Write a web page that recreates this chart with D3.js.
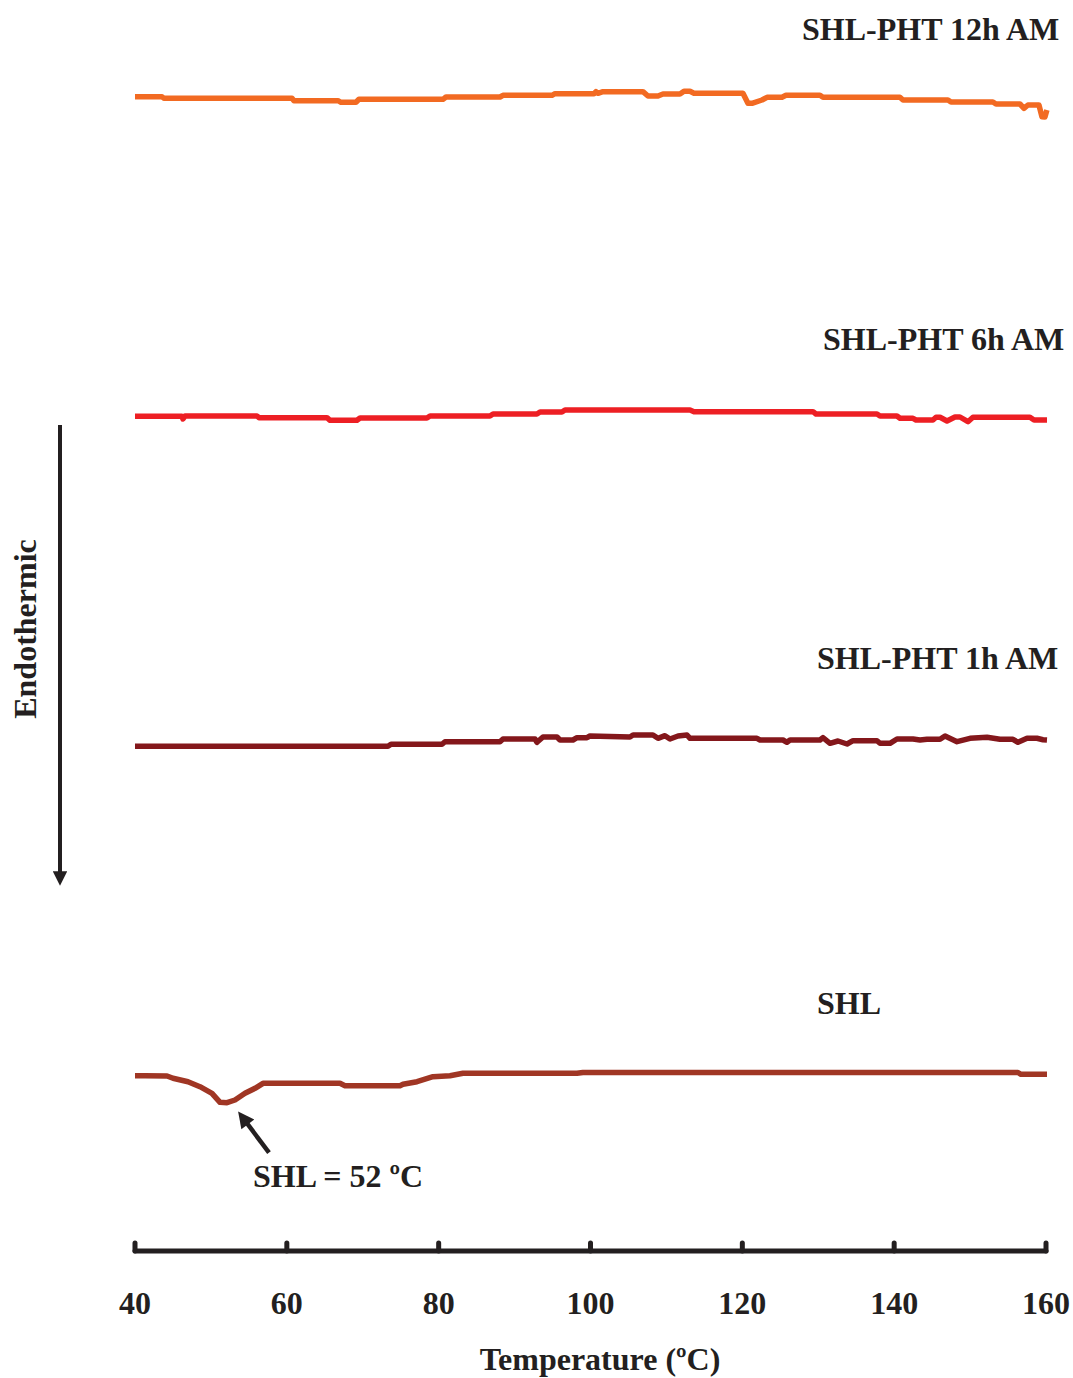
<!DOCTYPE html>
<html>
<head>
<meta charset="utf-8">
<script src="https://cdn.jsdelivr.net/npm/d3@7"></script>
<style>
  body { margin: 0; background: #fff; }
  svg text { font-family: "Liberation Serif", "Times New Roman", serif; font-weight: bold; fill: #231f20; }
</style>
</head>
<body>
<div id="graph"></div>
<script>
// temperature (ºC) and heat flow (a.u., endo down)
var shl12T = [40, 43.56, 43.8, 60.68, 60.94, 66.74, 67.13, 69.11, 69.5, 80.57, 80.96, 88.08, 88.47, 94.93, 95.32, 100.46, 100.72, 100.99, 101.64, 106.91, 107.57, 108.89, 109.55, 111.79, 112.31, 113.1, 113.63, 120.08, 120.74, 121.27, 122.59, 123.25, 125.22, 125.75, 130.23, 130.62, 140.76, 141.16, 147.09, 147.48, 153.01, 153.41, 156.57, 157.1, 157.62, 159.07, 159.47, 159.86, 160.12];
var shl12V = [115.33, 115.33, 115.17, 115.17, 114.93, 114.93, 114.77, 114.77, 115.07, 115.07, 115.3, 115.3, 115.47, 115.47, 115.63, 115.63, 115.83, 115.67, 115.83, 115.83, 115.4, 115.4, 115.6, 115.6, 115.87, 115.87, 115.67, 115.67, 114.67, 114.67, 115.0, 115.27, 115.27, 115.47, 115.47, 115.27, 115.27, 115.0, 115.0, 114.8, 114.8, 114.6, 114.6, 114.17, 114.5, 114.5, 113.33, 113.3, 114.0];

var shl6T = [40, 46.19, 46.32, 46.59, 56.07, 56.33, 65.29, 65.69, 69.24, 69.64, 78.46, 78.86, 86.76, 87.16, 92.95, 93.35, 96.24, 96.64, 113.11, 113.63, 129.31, 129.7, 137.74, 138.13, 140.37, 140.77, 142.48, 142.88, 145.11, 145.51, 146.04, 146.96, 148.01, 148.67, 149.72, 150.38, 157.89, 158.42, 160.13];
var shl6V = [83.37, 83.37, 83.1, 83.4, 83.4, 83.23, 83.23, 82.97, 82.97, 83.2, 83.2, 83.4, 83.4, 83.6, 83.6, 83.8, 83.8, 84.0, 84.0, 83.83, 83.83, 83.6, 83.6, 83.4, 83.4, 83.17, 83.17, 83.0, 83.0, 83.27, 83.27, 82.9, 83.3, 83.3, 82.83, 83.27, 83.27, 83.0, 83.0];

var shl1T = [40, 73.33, 73.72, 80.44, 80.83, 88.08, 88.47, 92.69, 92.95, 93.74, 95.59, 95.98, 97.69, 98.22, 99.54, 99.93, 105.2, 105.6, 108.23, 108.89, 109.81, 110.47, 111.53, 112.71, 113.11, 121.93, 122.33, 125.36, 125.88, 126.28, 130.23, 130.62, 131.55, 132.6, 133.79, 134.58, 137.74, 138.13, 139.45, 140.37, 142.48, 143.4, 144.32, 146.04, 146.7, 148.28, 149.99, 152.23, 153.94, 155.65, 156.31, 157.5, 158.81, 159.6, 160.13];
var shl1V = [50.37, 50.37, 50.57, 50.57, 50.83, 50.83, 51.1, 51.1, 50.77, 51.3, 51.3, 51.0, 51.0, 51.23, 51.23, 51.4, 51.3, 51.5, 51.5, 51.17, 51.43, 51.1, 51.4, 51.5, 51.17, 51.17, 51.0, 51.0, 50.77, 51.0, 51.0, 51.23, 50.67, 50.9, 50.6, 50.93, 50.93, 50.67, 50.67, 51.1, 51.1, 51.0, 51.07, 51.07, 51.4, 50.83, 51.17, 51.27, 51.07, 51.07, 50.77, 51.17, 51.17, 51.03, 51.0];

var shlT = [40, 41.32, 44.22, 45.01, 46.98, 48.56, 50.14, 51.2, 52.12, 53.17, 54.49, 55.81, 56.86, 67.0, 67.66, 74.91, 75.3, 77.15, 79.25, 81.49, 83.2, 98.22, 99.0, 156.31, 156.7, 160.13];
var shlV = [17.43, 17.43, 17.4, 17.17, 16.83, 16.33, 15.67, 14.77, 14.73, 15.0, 15.67, 16.17, 16.67, 16.67, 16.43, 16.43, 16.57, 16.83, 17.33, 17.43, 17.67, 17.67, 17.75, 17.75, 17.57, 17.57];

var seriesNames = ["SHL-PHT 12h AM", "SHL-PHT 6h AM", "SHL-PHT 1h AM", "SHL"];
var seriesColors = ["#f26a22", "#ed1f24", "#84171b", "#a03624"];
var xTicks = [40, 60, 80, 100, 120, 140, 160];
var peakT = 52.12, peakV = 14.73;

var width = 1073, height = 1378;

var svg = d3.select("#graph").append("svg")
    .attr("width", width)
    .attr("height", height);

var x = d3.scaleLinear().domain([40, 160]).range([135, 1046]);
var y = d3.scaleLinear().domain([0, 125]).range([1250, 0]);

var line = d3.line()
    .x(function(d) { return x(d[0]); })
    .y(function(d) { return y(d[1]); });

var allT = [shl12T, shl6T, shl1T, shlT];
var allV = [shl12V, shl6V, shl1V, shlV];

allT.forEach(function(ts, i) {
  var pts = ts.map(function(t, j) { return [t, allV[i][j]]; });
  svg.append("path")
      .datum(pts)
      .attr("fill", "none")
      .attr("stroke", seriesColors[i])
      .attr("stroke-width", 5.5)
      .attr("stroke-linejoin", "round")
      .attr("stroke-linecap", "butt")
      .attr("d", line);
});

// series labels
var labelPos = [[802, 40], [823, 350], [817, 669], [817, 1014]];
seriesNames.forEach(function(n, i) {
  svg.append("text")
      .attr("x", labelPos[i][0])
      .attr("y", labelPos[i][1])
      .attr("font-size", 32)
      .text(n);
});

// x axis
var axis = svg.append("g")
    .attr("transform", "translate(0,1251)");
axis.append("line")
    .attr("x1", x(40)).attr("x2", x(160))
    .attr("stroke", "#231f20").attr("stroke-width", 5).attr("stroke-linecap", "round");
axis.selectAll(".tick").data(xTicks).enter().append("line")
    .attr("x1", function(d) { return x(d); })
    .attr("x2", function(d) { return x(d); })
    .attr("y1", 0).attr("y2", -8)
    .attr("stroke", "#231f20").attr("stroke-width", 5).attr("stroke-linecap", "round");
axis.selectAll(".lbl").data(xTicks).enter().append("text")
    .attr("x", function(d) { return x(d); })
    .attr("y", 63)
    .attr("text-anchor", "middle")
    .attr("font-size", 32)
    .text(function(d) { return d; });

svg.append("text")
    .attr("x", 600)
    .attr("y", 1370)
    .attr("text-anchor", "middle")
    .attr("font-size", 32)
    .text("Temperature (ºC)");

// endothermic arrow
var defs = svg.append("defs");
defs.append("marker")
    .attr("id", "ah")
    .attr("viewBox", "0 0 10 10")
    .attr("refX", 6).attr("refY", 5)
    .attr("markerWidth", 4).attr("markerHeight", 3.6)
    .attr("markerUnits", "strokeWidth")
    .attr("orient", "auto")
    .append("path").attr("d", "M0,0L10,5L0,10Z").attr("fill", "#231f20");

svg.append("line")
    .attr("x1", 60).attr("y1", 425).attr("x2", 60).attr("y2", 880)
    .attr("stroke", "#231f20").attr("stroke-width", 4)
    .attr("marker-end", "url(#ah)");

svg.append("text")
    .attr("transform", "translate(36,629) rotate(-90)")
    .attr("text-anchor", "middle")
    .attr("font-size", 32)
    .text("Endothermic");

// peak annotation
svg.append("line")
    .attr("x1", x(peakT) + 42).attr("y1", y(peakV) + 50)
    .attr("x2", x(peakT) + 15).attr("y2", y(peakV) + 14)
    .attr("stroke", "#231f20").attr("stroke-width", 4.5)
    .attr("marker-end", "url(#ah)");

svg.append("text")
    .attr("x", 253)
    .attr("y", 1187)
    .attr("font-size", 32)
    .text("SHL = 52 ºC");
</script>
</body>
</html>
